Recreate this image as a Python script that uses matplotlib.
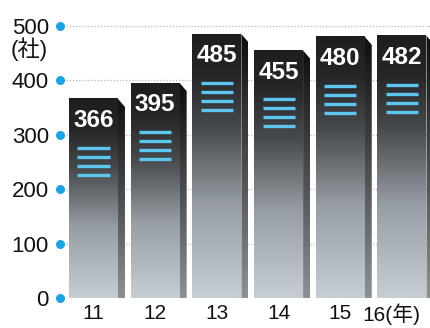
import numpy as np
import matplotlib.pyplot as plt
from matplotlib.colors import LinearSegmentedColormap
from matplotlib.patches import Polygon
from matplotlib.transforms import ScaledTranslation

plt.rcParams['font.family'] = ['Liberation Sans', 'Noto Sans CJK JP', 'DejaVu Sans']

# Data
years = ['11', '12', '13', '14', '15', '16(年)']
companies = [366, 395, 485, 455, 480, 482]
yticks = [0, 100, 200, 300, 400, 500]

# Colours
front_cmap = LinearSegmentedColormap.from_list(
    'front', [(0, '#c6ced3'), (0.35, '#979ea4'), (0.65, '#46494c'), (0.85, '#252628'), (1, '#1e1e1e')])
side_cmap = LinearSegmentedColormap.from_list(
    'side', [(0, '#8e9194'), (0.5, '#4a4c4e'), (1, '#0e0e0e')])
blue = '#1fa3e0'
stripe = '#5cc6ee'

fig = plt.figure(figsize=(4.3, 3.28), dpi=100)
ax = fig.add_axes([60 / 430, 30 / 328, 370 / 430, 298 / 328])

front_w = 0.397
side_w = 0.113
chamfer = 14.7
grad = np.linspace(0, 1, 256).reshape(-1, 1)[::-1]

# gridlines
ax.hlines(yticks[1:], -0.5, 5.6, colors='#b8b8b8', linestyles=(0, (1, 1.5)), lw=0.9, zorder=1)

for i, v in enumerate(companies):
    x0, x1 = i - front_w, i + front_w
    ax.imshow(grad, extent=(x0, x1, 0, v), aspect='auto', cmap=front_cmap, zorder=2,
              interpolation='bilinear')
    side = Polygon([(x1, 0), (x1, v), (x1 + side_w, v - chamfer), (x1 + side_w, 0)],
                   closed=True, facecolor='none', edgecolor='none')
    ax.add_patch(side)
    im = ax.imshow(grad, extent=(x1, x1 + side_w, 0, v), aspect='auto', cmap=side_cmap,
                   zorder=2, interpolation='bilinear')
    im.set_clip_path(side)
    # stripes
    ys = v - 90 - 16.5 * np.arange(4)
    ax.hlines(ys, i - 0.26, i + 0.26, colors=stripe, lw=2.4, zorder=3)
    ax.text(i, v - 40, str(v), color='white', ha='center', va='center',
            fontsize=17.5, fontweight='bold', zorder=4)

ax.set_xlim(-0.543, 5.454)
ax.set_ylim(0, 547.8)

# tick dots
ax.plot([-0.543] * len(yticks), yticks, 'o', color=blue, ms=5.5, clip_on=False, zorder=5)

ax.set_yticks(yticks)
ax.set_yticklabels([str(t) for t in yticks], fontsize=16, color='#111111')
ax.tick_params(axis='y', length=0, pad=8)
ax.set_xticks(range(len(years)))
ax.set_xticklabels(years, fontsize=15, color='#111111')
ax.tick_params(axis='x', length=0, pad=4)
lab = ax.get_xticklabels()[-1]
lab.set_transform(lab.get_transform() + ScaledTranslation(-0.11, 0, fig.dpi_scale_trans))

ax.text(-0.543, 458, '(社)', fontsize=16, ha='right', va='center',
        transform=ax.transData + ScaledTranslation(-0.12, 0, fig.dpi_scale_trans),
        color='#111111', clip_on=False)

for s in ax.spines.values():
    s.set_visible(False)

fig.savefig('out.png', dpi=100)
